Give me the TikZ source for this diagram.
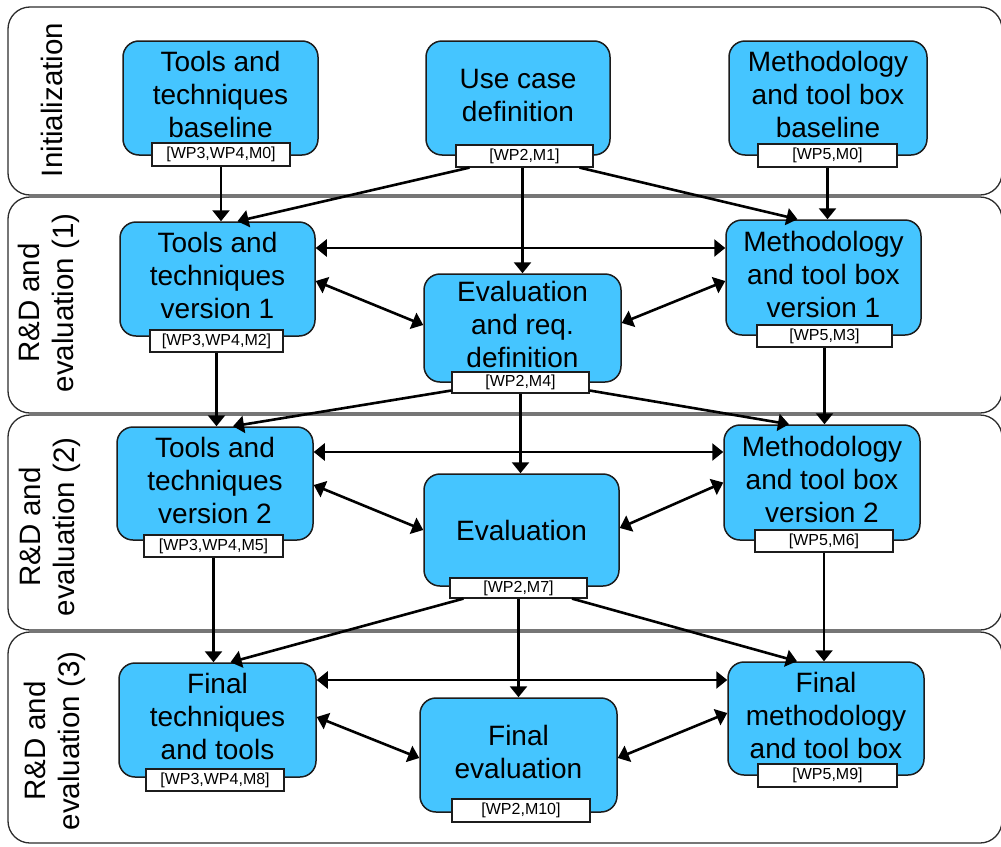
\documentclass[tikz,border=0pt]{standalone}
\usepackage{fontspec}
\setmainfont{Liberation Sans}
\usetikzlibrary{arrows.meta}
\definecolor{boxblue}{RGB}{69,197,255}
\definecolor{edge}{RGB}{28,28,28}
\definecolor{bandline}{RGB}{45,45,45}
% stacked, centred lines lifted a little above the box centre
\newcommand{\rows}[1]{\raisebox{1.5pt}{\begin{tabular}{@{}c@{}}#1\end{tabular}}}

\begin{document}
\begin{tikzpicture}[x=1pt,y=-1pt,
  band/.style={draw=bandline, line width=1.3pt, rounded corners=22pt},
  task/.style={draw=edge, line width=1.5pt, fill=boxblue, rounded corners=16pt,
    minimum width=196pt, minimum height=114pt, align=center, inner sep=0pt,
    font=\fontsize{28}{33}\selectfont},
  ms/.style={draw=edge, line width=1.2pt, fill=white, minimum width=138pt,
    minimum height=22pt, inner sep=0pt, font=\fontsize{16}{16}\selectfont},
  phase/.style={rotate=90, align=center, inner sep=0pt,
    font=\fontsize{29.5}{34}\selectfont},
  tipA/.tip={Triangle[length=11pt,width=17pt]},
  arr/.style={line width=2.6pt, -tipA},
  darr/.style={line width=2.6pt, tipA-tipA}
]
\useasboundingbox (0,0) rectangle (1001,846);
\clip (0,0) rectangle (1001,846);

% phase bands
\draw[band] (8,7) rectangle (1002,195);
\draw[band] (8,197) rectangle (1002,413);
\draw[band] (8,415) rectangle (1002,630);
\draw[band] (8,632) rectangle (1002,843);

\node[phase] (p0) at (52,100) {Initialization};
\node[phase] (p1) at (49,303) {R\&D and\\evaluation (1)};
\node[phase] (p2) at (50,527) {R\&D and\\evaluation (2)};
\node[phase] (p3) at (55,741) {R\&D and\\evaluation (3)};

% work packages
\node[task, minimum width=195pt] (tt0) at (220.5,98) {\rows{Tools and\\techniques\\baseline}};
\node[task, minimum width=184pt] (uc0) at (518,98) {\rows{Use case\\definition}};
\node[task, minimum width=198pt] (mb0) at (828,98) {\rows{Methodology\\and tool box\\baseline}};

\node[task, minimum width=195pt] (tt1) at (217.5,279) {\rows{Tools and\\techniques\\version 1}};
\node[task, minimum width=197pt, minimum height=108pt] (er1) at (522.5,328) {\rows{Evaluation\\and req.\\definition}};
\node[task, minimum width=195pt, minimum height=115pt] (mv1) at (823.5,277.5) {\rows{Methodology\\and tool box\\version 1}};

\node[task, minimum width=196pt, minimum height=113pt] (tt2) at (215,483.5) {\rows{Tools and\\techniques\\version 2}};
\node[task, minimum width=195pt, minimum height=112pt] (ev2) at (521.5,530) {Evaluation};
\node[task, minimum width=196pt, minimum height=115pt] (mv2) at (822,482.5) {\rows{Methodology\\and tool box\\version 2}};

\node[task, minimum width=197pt] (ft3) at (217.5,720) {\rows{Final\\techniques\\and tools}};
\node[task, minimum width=197pt] (fe3) at (518.5,755) {\rows{Final\\evaluation}};
\node[task, minimum width=196pt, minimum height=113pt] (fm3) at (826,718.5) {\rows{Final\\methodology\\and tool box}};

% milestone tags
\node[ms, minimum height=23pt] (tt0l) at (221,154.5) {[WP3,WP4,M0]};
\node[ms, minimum width=137pt] (uc0l) at (524.5,156) {[WP2,M1]};
\node[ms, minimum width=139pt, minimum height=23pt] (mb0l) at (827.5,155.5) {[WP5,M0]};

\node[ms, minimum width=133pt] (tt1l) at (216.5,341) {[WP3,WP4,M2]};
\node[ms, minimum width=137pt, minimum height=21pt] (er1l) at (520.5,382.5) {[WP2,M4]};
\node[ms, minimum width=135pt] (mv1l) at (824.5,336) {[WP5,M3]};

\node[ms, minimum width=139pt] (tt2l) at (213.5,546) {[WP3,WP4,M5]};
\node[ms, minimum width=137pt, minimum height=20pt] (ev2l) at (518.5,588) {[WP2,M7]};
\node[ms] (mv2l) at (824,541) {[WP5,M6]};

\node[ms] (ft3l) at (215,780) {[WP3,WP4,M8]};
\node[ms, minimum height=23pt] (fe3l) at (521,810.5) {[WP2,M10]};
\node[ms, minimum width=139pt, minimum height=23pt] (fm3l) at (827.5,775.5) {[WP5,M9]};

% initialization -> phase 1
\draw[arr] (tt0l.south) -- (tt0l.south |- tt1.north);
\draw[arr] ([xshift=-55pt]uc0l.south) -- ([xshift=20pt]tt1.north);
\draw[arr] (uc0l.south -| er1.north) -- (er1.north);
\draw[arr] ([xshift=55pt]uc0l.south) -- ([xshift=-26pt]mv1.north);
\draw[arr] (mb0l.south) -- (mb0l.south |- mv1.north);

% phase 1 exchanges
\draw[darr] ([yshift=31pt]tt1.east) -- ([yshift=31pt]tt1.east -| mv1.west);
\draw[darr] ([yshift=-2pt]tt1.east) -- ([yshift=3pt]er1.west);
\draw[darr] ([yshift=-3.5pt]mv1.west) -- ([yshift=5pt]er1.east);

% phase 1 -> phase 2
\draw[arr] (tt1l.south) -- (tt1l.south |- tt2.north);
\draw[arr] ([yshift=-8pt]er1l.west) -- ([xshift=18pt]tt2.north);
\draw[arr] (er1l.south) -- (er1l.south |- ev2.north);
\draw[arr] ([yshift=-8pt]er1l.east) -- ([xshift=-33pt]mv2.north);
\draw[arr] (mv1l.south) -- (mv1l.south |- mv2.north);

% phase 2 exchanges
\draw[darr] ([yshift=31.5pt]tt2.east) -- ([yshift=31.5pt]tt2.east -| mv2.west);
\draw[darr] ([yshift=-1.5pt]tt2.east) -- (ev2.west);
\draw[darr] (mv2.west) -- ([yshift=2pt]ev2.east);

% phase 2 -> phase 3
\draw[arr] (tt2l.south) -- (tt2l.south |- ft3.north);
\draw[arr] ([xshift=-55pt]ev2l.south) -- ([xshift=13pt]ft3.north);
\draw[arr] (ev2l.south) -- (ev2l.south |- fe3.north);
\draw[arr] ([xshift=53.5pt]ev2l.south) -- ([xshift=-29pt]fm3.north);
\draw[arr] (mv2l.south) -- (mv2l.south |- fm3.north);

% phase 3 exchanges
\draw[darr] ([yshift=40pt]ft3.east) -- ([yshift=40pt]ft3.east -| fm3.west);
\draw[darr] ([yshift=3pt]ft3.east) -- ([yshift=-3pt]fe3.west);
\draw[darr] ([yshift=5.5pt]fm3.west) -- ([yshift=-3pt]fe3.east);
\end{tikzpicture}
\end{document}
